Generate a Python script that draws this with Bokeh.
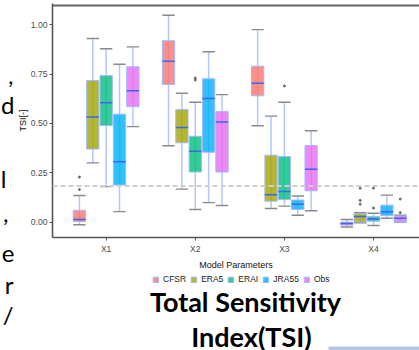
from bokeh.plotting import figure
from bokeh.layouts import row, column
from bokeh.models import (Range1d, FixedTicker, Span, Label, Legend, LegendItem,
                          NumeralTickFormatter, BoxAnnotation)
from bokeh.embed import file_html
from bokeh.resources import INLINE

params = ["X1", "X2", "X3", "X4"]
datasets = ["CFSR", "ERA5", "ERAI", "JRA55", "Obs"]
colors = ["#F8766D", "#A3A500", "#00BF7D", "#00B0F6", "#E76BF3"]
y_ticks = [0.0, 0.25, 0.50, 0.75, 1.00]
threshold = 0.183

# five-number summaries per dataset, one value per parameter X1..X4
CFSR_low  = [-0.013, 0.387, 0.488, -0.025]
CFSR_q1   = [0.003, 0.697, 0.640, -0.015]
CFSR_med  = [0.013, 0.815, 0.704, -0.007]
CFSR_q3   = [0.060, 0.919, 0.790, 0.000]
CFSR_high = [0.135, 1.048, 0.975, 0.013]

ERA5_low  = [0.300, 0.167, 0.069, -0.003]
ERA5_q1   = [0.370, 0.402, 0.106, 0.001]
ERA5_med  = [0.532, 0.479, 0.139, 0.028]
ERA5_q3   = [0.717, 0.570, 0.339, 0.043]
ERA5_high = [0.930, 0.653, 0.537, 0.048]

ERAI_low  = [0.180, 0.064, 0.081, -0.017]
ERAI_q1   = [0.489, 0.254, 0.114, 0.005]
ERAI_med  = [0.605, 0.359, 0.155, 0.016]
ERAI_q3   = [0.742, 0.435, 0.332, 0.028]
ERAI_high = [0.878, 0.607, 0.607, 0.045]

JRA55_low  = [0.053, 0.099, 0.035, 0.020]
JRA55_q1   = [0.188, 0.354, 0.064, 0.033]
JRA55_med  = [0.306, 0.626, 0.091, 0.053]
JRA55_q3   = [0.547, 0.726, 0.112, 0.086]
JRA55_high = [0.800, 0.863, 0.132, 0.137]

Obs_low  = [0.484, 0.084, 0.058, 0.000]
Obs_q1   = [0.585, 0.254, 0.159, 0.001]
Obs_med  = [0.665, 0.507, 0.268, 0.020]
Obs_q3   = [0.787, 0.560, 0.388, 0.031]
Obs_high = [0.888, 0.646, 0.463, 0.035]

# outliers: (parameter index, value)
CFSR_out  = [(0, 0.228), (0, 0.165)]
ERA5_out  = [(3, 0.172), (3, 0.110), (3, 0.091)]
ERAI_out  = [(1, 0.730), (1, 0.720), (2, 0.690), (3, 0.172), (3, 0.071)]
JRA55_out = []
Obs_out   = [(3, 0.117), (3, 0.048)]

stats = {
    "CFSR": (CFSR_low, CFSR_q1, CFSR_med, CFSR_q3, CFSR_high, CFSR_out),
    "ERA5": (ERA5_low, ERA5_q1, ERA5_med, ERA5_q3, ERA5_high, ERA5_out),
    "ERAI": (ERAI_low, ERAI_q1, ERAI_med, ERAI_q3, ERAI_high, ERAI_out),
    "JRA55": (JRA55_low, JRA55_q1, JRA55_med, JRA55_q3, JRA55_high, JRA55_out),
    "Obs": (Obs_low, Obs_q1, Obs_med, Obs_q3, Obs_high, Obs_out),
}

dodge = [-0.3, -0.15, 0.0, 0.15, 0.3]
bw = 0.138
FONT = "Liberation Sans"
TFONT = "Lato"

# ---------------- main chart ----------------
p = figure(width=405, height=272, output_backend="svg", toolbar_location=None,
           x_range=Range1d(0.398, 4.516), y_range=Range1d(-0.0779, 1.1076),
           min_border_left=34, min_border_right=0, min_border_top=3, min_border_bottom=30,
           background_fill_color="white", border_fill_color="white", frame_align=False)
p.xgrid.visible = False
p.ygrid.visible = False
p.outline_line_color = None

for ax in (p.xaxis[0], p.yaxis[0]):
    ax.axis_line_color = "#555555"
    ax.axis_line_width = 1.6
    ax.major_tick_line_color = "#555555"
    ax.major_tick_in = 0
    ax.major_tick_out = 3
    ax.minor_tick_line_color = None
    ax.major_label_text_font = FONT
    ax.major_label_text_font_size = "8.6px"
    ax.major_label_text_color = "#4d4d4d"
    ax.axis_label_text_font = FONT
    ax.axis_label_text_font_size = "9px"
    ax.axis_label_text_font_style = "normal"
    ax.axis_label_text_color = "#111111"

p.yaxis.ticker = FixedTicker(ticks=y_ticks)
p.yaxis.formatter = NumeralTickFormatter(format="0.00")
p.yaxis.axis_label = "TSI[-]"
p.yaxis.major_label_standoff = 2
p.yaxis.axis_label_standoff = 0

p.xaxis.ticker = FixedTicker(ticks=[i + 1 for i in range(len(params))])
p.xaxis.major_label_overrides = {i + 1: params[i] for i in range(len(params))}
p.xaxis.axis_label = "Model Parameters"
p.xaxis.major_label_standoff = 3
p.xaxis.axis_label_standoff = 3

# top frame line
p.add_layout(Span(location=1.0977, dimension="width", line_color="#666666", line_width=2))
# threshold line
p.add_layout(Span(location=threshold, dimension="width", line_color="#cfcfcf",
                  line_width=2, line_dash="5 3"))

for k, name in enumerate(datasets):
    low, q1, med, q3, high, out = stats[name]
    xs = [i + 1 + dodge[k] for i in range(len(params))]
    p.segment(x0=xs, y0=low, x1=xs, y1=high, line_color="#b4c6ff", line_width=1.5)
    p.segment(x0=[x - bw / 2 for x in xs], y0=low, x1=[x + bw / 2 for x in xs], y1=low,
              line_color="#8a8a8a", line_width=1.4)
    p.segment(x0=[x - bw / 2 for x in xs], y0=high, x1=[x + bw / 2 for x in xs], y1=high,
              line_color="#8a8a8a", line_width=1.4)
    p.quad(left=[x - bw / 2 for x in xs], right=[x + bw / 2 for x in xs],
           bottom=q1, top=q3, fill_color=colors[k], fill_alpha=0.8,
           line_color="#a3b8ff", line_width=1)
    p.segment(x0=[x - bw / 2 for x in xs], y0=med, x1=[x + bw / 2 for x in xs], y1=med,
              line_color="#3a66f0", line_width=1.5)
    if out:
        p.scatter(x=[1 + o[0] + dodge[k] for o in out], y=[o[1] for o in out],
                  size=2, color="#666666")

# ---------------- legend + slide title below ----------------
c = figure(width=405, height=78, output_backend="svg", toolbar_location=None,
           x_range=Range1d(0, 405), y_range=Range1d(0, 78),
           x_axis_type=None, y_axis_type=None, frame_align=False,
           min_border_left=0, min_border_right=0, min_border_top=0, min_border_bottom=0,
           background_fill_color="white", border_fill_color="white")
c.xgrid.visible = False
c.ygrid.visible = False
c.outline_line_color = None

# legend key renderers (kept outside the visible range; only their legend keys show)
keys = {}
for k, name in enumerate(datasets):
    keys[name] = c.quad(left=[-50], right=[-40], bottom=[-50], top=[-40], fill_color=colors[k],
                        fill_alpha=0.8, line_color="#a3b8ff", line_width=1)
legend = Legend(items=[LegendItem(label=n, renderers=[keys[n]]) for n in datasets],
                orientation="horizontal", location=(138, 66),
                padding=0, margin=0, spacing=4, label_standoff=4,
                glyph_width=7, glyph_height=7, label_height=8,
                label_text_font=FONT, label_text_font_size="8.5px",
                label_text_color="#222222",
                border_line_color=None, background_fill_alpha=0)
c.add_layout(legend, "center")

c.add_layout(Label(x=231, y=49, text="Total Sensitivity",
                   text_font=TFONT, text_font_style="bold", text_font_size="27px",
                   text_align="center", text_baseline="alphabetic", text_color="black"))
c.add_layout(Label(x=237, y=14, text="Index(TSI)",
                   text_font=TFONT, text_font_style="bold", text_font_size="27px",
                   text_align="center", text_baseline="alphabetic", text_color="black"))
c.add_layout(BoxAnnotation(left=314, right=405, bottom=0, top=4,
                           fill_color="#b4c7e7", fill_alpha=1, line_color=None))

# ---------------- left strip: right ends of slide text lines ----------------
a = figure(width=14, height=350, output_backend="svg", toolbar_location=None,
           x_range=Range1d(0, 14), y_range=Range1d(0, 350),
           x_axis_type=None, y_axis_type=None, frame_align=False,
           min_border_left=0, min_border_right=0, min_border_top=0, min_border_bottom=0,
           background_fill_color="white", border_fill_color="white")
a.xgrid.visible = False
a.ygrid.visible = False
a.outline_line_color = None

frag_text = [",", "d", "l", ",", "e", "r", "/"]
frag_right = [13, 14, 6, 8, 14, 13, 13]
frag_base = [75, 104, 178, 213, 253, 284, 314]
for t, xr, yb in zip(frag_text, frag_right, frag_base):
    a.add_layout(Label(x=xr, y=350 - yb, text=t,
                       text_font=TFONT, text_font_size="24px", text_align="right",
                       text_baseline="alphabetic", text_color="black"))

layout = row(a, column(p, c, spacing=0), spacing=0)
out_html = file_html(layout, INLINE)
open("out.html", "w").write(out_html)
